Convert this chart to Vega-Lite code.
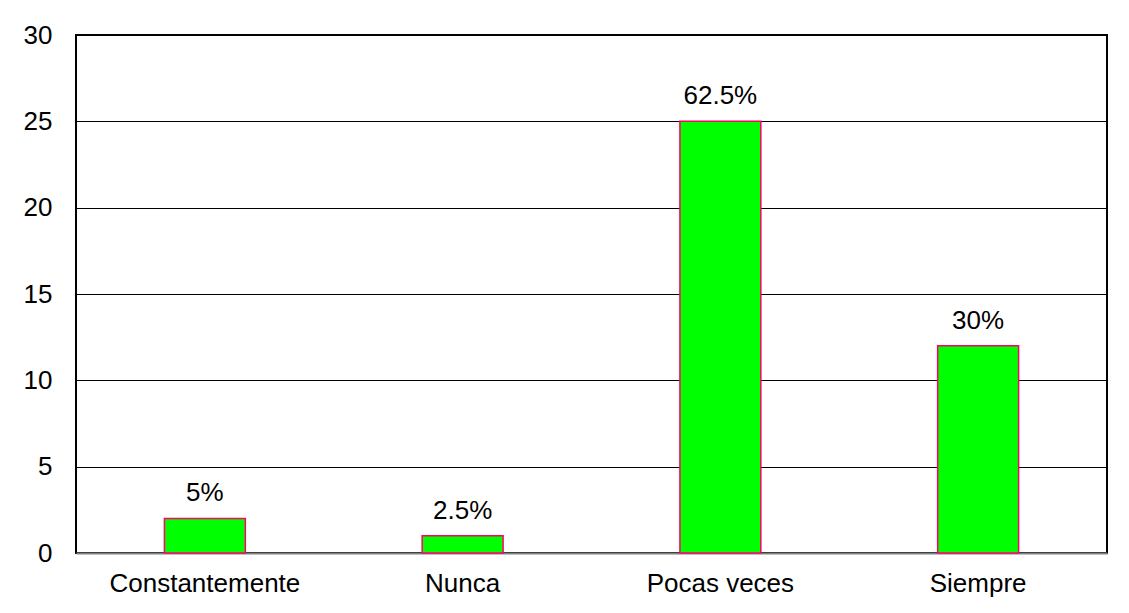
{
  "$schema": "https://vega.github.io/schema/vega-lite/v6.json",
  "autosize": {"type": "none"},
  "width": 1031,
  "height": 518,
  "padding": {"left": 76, "top": 35, "right": 22, "bottom": 60},
  "background": "white",
  "config": {
    "view": {"stroke": "black", "strokeWidth": 2},
    "font": "Liberation Sans"
  },
  "data": {
    "values": [
      {"cat": "Constantemente", "n": 2, "lbl": "5%"},
      {"cat": "Nunca", "n": 1, "lbl": "2.5%"},
      {"cat": "Pocas veces", "n": 25, "lbl": "62.5%"},
      {"cat": "Siempre", "n": 12, "lbl": "30%"}
    ]
  },
  "encoding": {
    "x": {
      "field": "cat", "type": "nominal", "sort": null,
      "scale": {"paddingInner": 0.686, "paddingOuter": 0.343},
      "axis": {"title": null, "labelAngle": 0, "labelFontSize": 26, "labelLimit": 0, "labelColor": "black", "labelPadding": 17, "ticks": false, "domainColor": "#808080", "domainWidth": 2}
    },
    "y": {
      "field": "n", "type": "quantitative",
      "scale": {"domain": [0, 30], "nice": false},
      "axis": {"title": null, "values": [0, 5, 10, 15, 20, 25, 30], "labelFontSize": 26, "labelColor": "black", "labelPadding": 24, "ticks": false, "domain": false, "gridColor": "black", "gridOpacity": 1, "gridWidth": 1}
    }
  },
  "layer": [
    {"mark": {"type": "bar", "color": "#00FF00", "stroke": "#FF0066", "strokeWidth": 1.5}},
    {"mark": {"type": "text", "baseline": "alphabetic", "dy": -17, "fontSize": 26, "color": "black"}, "encoding": {"text": {"field": "lbl"}}}
  ]
}
